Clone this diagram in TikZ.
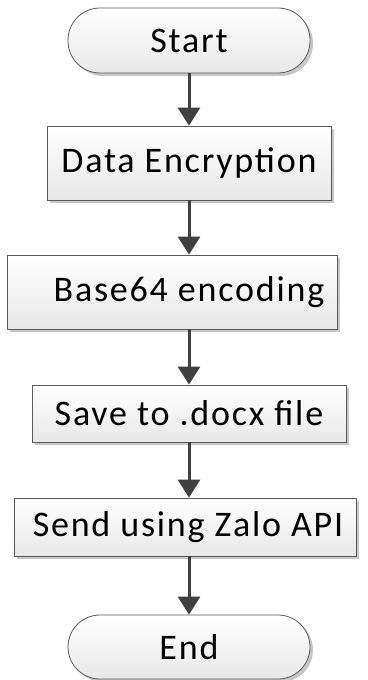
\documentclass[tikz,border=0pt]{standalone}
\usepackage{fontspec}
\setmainfont{Carlito}[LetterSpace=5]
\usetikzlibrary{arrows.meta,shadows}
\definecolor{edgegray}{HTML}{404040}
\definecolor{bordergray}{HTML}{5A5A5A}
\tikzset{
  boxbase/.style={draw=bordergray, line width=0.8pt, top color=white, bottom color=black!9,
    drop shadow={shadow xshift=3pt, shadow yshift=-3pt, fill=black!22, opacity=1},
    font=\fontsize{36}{40}\selectfont, inner sep=0pt, anchor=center},
  procbox/.style={boxbase, rectangle},
  termbox/.style={boxbase, rectangle, rounded corners=32pt},
  flowarrow/.style={draw=edgegray, line width=3pt, -{Triangle[width=22pt,length=18pt]}}
}
\begin{document}
\begin{tikzpicture}[x=1pt,y=-1pt]
\useasboundingbox (0,0) rectangle (367,680);
\node[termbox, minimum width=242pt, minimum height=65pt] (start) at (189,40.5) {Start};
\node[procbox, minimum width=284pt, minimum height=74pt] (enc) at (189,163) {Data Encryption};
\node[procbox, minimum width=330pt, minimum height=74pt] (b64) at (172,292) {\hspace*{34pt}Base64 encoding};
\node[procbox, minimum width=314pt, minimum height=57pt] (save) at (189,413.5) {Save to .docx file};
\node[procbox, minimum width=342pt, minimum height=58pt] (send) at (185,527) {\hspace*{6pt}Send using Zalo API};
\node[termbox, minimum width=242pt, minimum height=64pt] (end) at (189,647) {End};
\draw[flowarrow] (start.south) -- (enc.north);
\draw[flowarrow] (enc.south) -- (enc.south |- b64.north);
\draw[flowarrow] (enc.south |- b64.south) -- (enc.south |- save.north);
\draw[flowarrow] (save.south) -- (save.south |- send.north);
\draw[flowarrow] (save.south |- send.south) -- (end.north);
\end{tikzpicture}
\end{document}
